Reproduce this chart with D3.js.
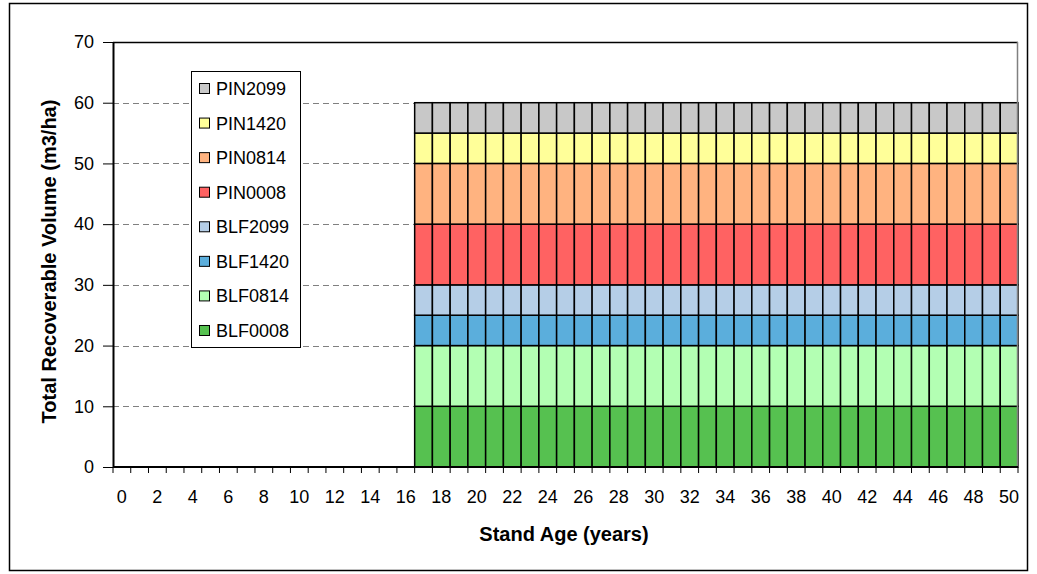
<!DOCTYPE html>
<html>
<head>
<meta charset="utf-8">
<script src="https://cdn.jsdelivr.net/npm/d3@7"></script>
<style>
  body { margin: 0; background: #fff; }
  svg { display: block; font-family: Arial, "Liberation Sans", sans-serif; }
</style>
</head>
<body>
<svg id="chart" width="1037" height="574"></svg>
<script>
// ---- Data ----
const ages = [0,1,2,3,4,5,6,7,8,9,10,11,12,13,14,15,16,17,18,19,20,21,22,23,24,25,26,27,28,29,30,31,32,33,34,35,36,37,38,39,40,41,42,43,44,45,46,47,48,49,50];
const seriesNames = ["BLF0008","BLF0814","BLF1420","BLF2099","PIN0008","PIN0814","PIN1420","PIN2099"];
const seriesColors = ["#56C150","#B3FFB3","#5BAEDC","#B5CEE7","#FF6262","#FFB380","#FFFF99","#C8C8C8"];
const BLF0008 = [0,0,0,0,0,0,0,0,0,0,0,0,0,0,0,0,0,10,10,10,10,10,10,10,10,10,10,10,10,10,10,10,10,10,10,10,10,10,10,10,10,10,10,10,10,10,10,10,10,10,10];
const BLF0814 = [0,0,0,0,0,0,0,0,0,0,0,0,0,0,0,0,0,10,10,10,10,10,10,10,10,10,10,10,10,10,10,10,10,10,10,10,10,10,10,10,10,10,10,10,10,10,10,10,10,10,10];
const BLF1420 = [0,0,0,0,0,0,0,0,0,0,0,0,0,0,0,0,0,5,5,5,5,5,5,5,5,5,5,5,5,5,5,5,5,5,5,5,5,5,5,5,5,5,5,5,5,5,5,5,5,5,5];
const BLF2099 = [0,0,0,0,0,0,0,0,0,0,0,0,0,0,0,0,0,5,5,5,5,5,5,5,5,5,5,5,5,5,5,5,5,5,5,5,5,5,5,5,5,5,5,5,5,5,5,5,5,5,5];
const PIN0008 = [0,0,0,0,0,0,0,0,0,0,0,0,0,0,0,0,0,10,10,10,10,10,10,10,10,10,10,10,10,10,10,10,10,10,10,10,10,10,10,10,10,10,10,10,10,10,10,10,10,10,10];
const PIN0814 = [0,0,0,0,0,0,0,0,0,0,0,0,0,0,0,0,0,10,10,10,10,10,10,10,10,10,10,10,10,10,10,10,10,10,10,10,10,10,10,10,10,10,10,10,10,10,10,10,10,10,10];
const PIN1420 = [0,0,0,0,0,0,0,0,0,0,0,0,0,0,0,0,0,5,5,5,5,5,5,5,5,5,5,5,5,5,5,5,5,5,5,5,5,5,5,5,5,5,5,5,5,5,5,5,5,5,5];
const PIN2099 = [0,0,0,0,0,0,0,0,0,0,0,0,0,0,0,0,0,5,5,5,5,5,5,5,5,5,5,5,5,5,5,5,5,5,5,5,5,5,5,5,5,5,5,5,5,5,5,5,5,5,5];
const seriesValues = [BLF0008,BLF0814,BLF1420,BLF2099,PIN0008,PIN0814,PIN1420,PIN2099];
const yTicks = [0,10,20,30,40,50,60,70];
const xTickLabels = [0,2,4,6,8,10,12,14,16,18,20,22,24,26,28,30,32,34,36,38,40,42,44,46,48,50];

// ---- Layout ----
const svg = d3.select("#chart");
const L = 113, R = 1018, T = 42, B = 467;

// outer border
svg.append("rect").attr("x", 9.5).attr("y", 3.5).attr("width", 1018).attr("height", 567)
  .attr("fill", "#fff").attr("stroke", "#000").attr("stroke-width", 1.5);

const x = d3.scaleBand().domain(ages).range([L, R]).paddingInner(0).paddingOuter(0);
const y = d3.scaleLinear().domain([0, 70]).range([B, T]);

// gridlines
svg.append("g").selectAll("line").data(yTicks.filter(d => d > 0 && d < 70)).join("line")
  .attr("x1", L).attr("x2", R)
  .attr("y1", d => Math.round(y(d)) + 0.5).attr("y2", d => Math.round(y(d)) + 0.5)
  .attr("stroke", "#808080").attr("stroke-width", 1).attr("stroke-dasharray", "6,4");

// stacked bars
const table = ages.map((a, i) => {
  const o = { age: a };
  seriesNames.forEach((n, k) => o[n] = seriesValues[k][i]);
  return o;
});
const stack = d3.stack().keys(seriesNames)(table);
svg.append("g").selectAll("g").data(stack).join("g")
  .attr("fill", (d, i) => seriesColors[i])
  .selectAll("rect").data(d => d.filter(p => p[1] - p[0] > 0)).join("rect")
  .attr("x", d => x(d.data.age))
  .attr("width", x.bandwidth())
  .attr("y", d => y(d[1]))
  .attr("height", d => y(d[0]) - y(d[1]))
  .attr("stroke", "#000").attr("stroke-width", 1.5);

// plot frame (top & right)
svg.append("line").attr("x1", L).attr("x2", R).attr("y1", T + 0.5).attr("y2", T + 0.5)
  .attr("stroke", "#000").attr("stroke-width", 1.5);
svg.append("line").attr("x1", R - 0.5).attr("x2", R - 0.5).attr("y1", T).attr("y2", B)
  .attr("stroke", "#808080").attr("stroke-width", 1.5);

// y axis
const yAxis = d3.axisLeft(y).tickValues(yTicks).tickSize(10).tickSizeOuter(0).tickPadding(9);
const gy = svg.append("g").attr("transform", `translate(${L},0)`).call(yAxis);
gy.select(".domain").attr("stroke", "#000").attr("stroke-width", 2);
gy.selectAll(".tick line").attr("stroke", "#000").attr("stroke-width", 1);
gy.selectAll("text").attr("font-size", 18).attr("fill", "#000").attr("font-family", "Arial, 'Liberation Sans', sans-serif");

// x axis: ticks at category boundaries, labels at centers
const gx = svg.append("g").attr("transform", `translate(0,${B})`);
gx.append("line").attr("x1", L).attr("x2", R).attr("y1", 0).attr("y2", 0)
  .attr("stroke", "#000").attr("stroke-width", 2);
gx.selectAll("line.tk").data(ages.concat([ages.length])).join("line").attr("class", "tk")
  .attr("x1", d => d < ages.length ? x(d) : R).attr("x2", d => d < ages.length ? x(d) : R)
  .attr("y1", 0).attr("y2", 6).attr("stroke", "#000").attr("stroke-width", 1);
gx.selectAll("text").data(xTickLabels).join("text")
  .attr("x", d => x(d) + x.bandwidth() / 2).attr("y", 36)
  .attr("text-anchor", "middle").attr("font-size", 18).attr("fill", "#000")
  .text(d => d);

// axis titles
svg.append("text").attr("x", 564).attr("y", 541).attr("text-anchor", "middle")
  .attr("font-size", 20).attr("font-weight", "bold").text("Stand Age (years)");
svg.append("text").attr("transform", `translate(56,${(T + B) / 2 + 7}) rotate(-90)`)
  .attr("text-anchor", "middle").attr("font-size", 20).attr("font-weight", "bold")
  .text("Total Recoverable Volume (m3/ha)");

// legend
const lg = svg.append("g");
lg.append("rect").attr("x", 191.5).attr("y", 71.5).attr("width", 109).attr("height", 276)
  .attr("fill", "#fff").attr("stroke", "#000").attr("stroke-width", 1);
const legendOrder = seriesNames.slice().reverse();
const items = lg.selectAll("g.it").data(legendOrder).join("g").attr("class", "it")
  .attr("transform", (d, i) => `translate(0,${88 + i * 34.57})`);
items.append("rect").attr("x", 199.5).attr("y", -4.5).attr("width", 10).attr("height", 10)
  .attr("fill", d => seriesColors[seriesNames.indexOf(d)]).attr("stroke", "#000").attr("stroke-width", 1);
items.append("text").attr("x", 216).attr("y", 7).attr("font-size", 18).attr("fill", "#000")
  .text(d => d);
</script>
</body>
</html>
